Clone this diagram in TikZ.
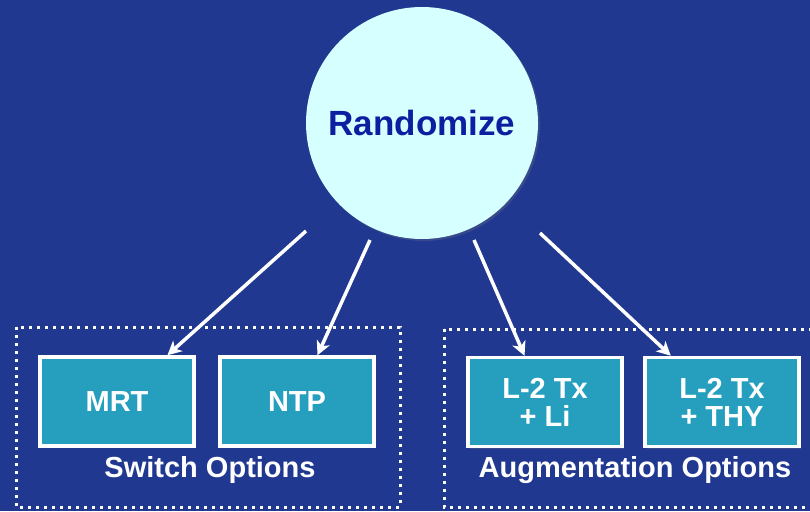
\documentclass[tikz,border=0pt]{standalone}
\usepackage{fontspec}
\setmainfont{Liberation Sans}
\usetikzlibrary{arrows.meta,calc,shadows}

\definecolor{bgblue}{RGB}{32,56,144}
\definecolor{paleCyan}{RGB}{214,255,255}
\definecolor{deepBlue}{RGB}{14,30,160}
\definecolor{tealBox}{RGB}{38,159,191}

\tikzset{
  optbox/.style={draw=white, line width=3.5pt, fill=tealBox, text=white,
    minimum width=154pt, minimum height=89pt, inner sep=0pt, align=center,
    font={\fontsize{29}{28}\selectfont\bfseries},
    drop shadow={opacity=0.25, shadow xshift=2pt, shadow yshift=-2pt}},
  grouplabel/.style={text=white, anchor=base, inner sep=0pt,
    font={\fontsize{29}{29}\selectfont\bfseries}},
  groupframe/.style={draw=white, line width=3pt, dash pattern=on 3pt off 5pt},
  arr/.style={draw=white, line width=3.5pt,
    -{Stealth[length=14pt, width=14pt, inset=4pt]}},
}

\begin{document}
\begin{tikzpicture}[x=1pt, y=-1pt]
  % canvas
  \fill[bgblue] (0,0) rectangle (810,511);
  \clip (0,0) rectangle (810,511);
  \useasboundingbox (0,0) rectangle (810,511);

  % central circle
  \node[circle, fill=paleCyan, minimum size=232pt, inner sep=0pt,
        text=deepBlue, font={\fontsize{35}{35}\selectfont\bfseries},
        drop shadow={opacity=0.25, shadow xshift=2pt, shadow yshift=-2pt}]
        (rand) at (422,123) {Randomize};

  % option groups
  \draw[groupframe] (16,327) rectangle (400,507);
  \draw[groupframe] (444,329) rectangle (830,507);

  \node[optbox] (mrt) at (117,401.5) {MRT};
  \node[optbox] (ntp) at (297,401.5) {NTP};
  \node[optbox] (li)  at (545,402) {L-2 Tx\\+ Li};
  \node[optbox] (thy) at (722,402) {L-2 Tx\\+ THY};

  \node[grouplabel] (swlab)  at (210,477) {Switch Options};
  \node[grouplabel] (auglab) at (635,477) {Augmentation Options};

  % arrow tails below the circle
  \coordinate (s1) at (306,231);
  \coordinate (s2) at (370,240);
  \coordinate (s3) at (474,240);
  \coordinate (s4) at (540,233);

  \draw[arr] (s1) -- ($(mrt.north west)!0.82!(mrt.north east)$);
  \draw[arr] (s2) -- ($(ntp.north west)!0.63!(ntp.north east)$);
  \draw[arr] (s3) -- ($(li.north west)!0.37!(li.north east)$);
  \draw[arr] (s4) -- ($(thy.north west)!0.175!(thy.north east)$);
\end{tikzpicture}
\end{document}
